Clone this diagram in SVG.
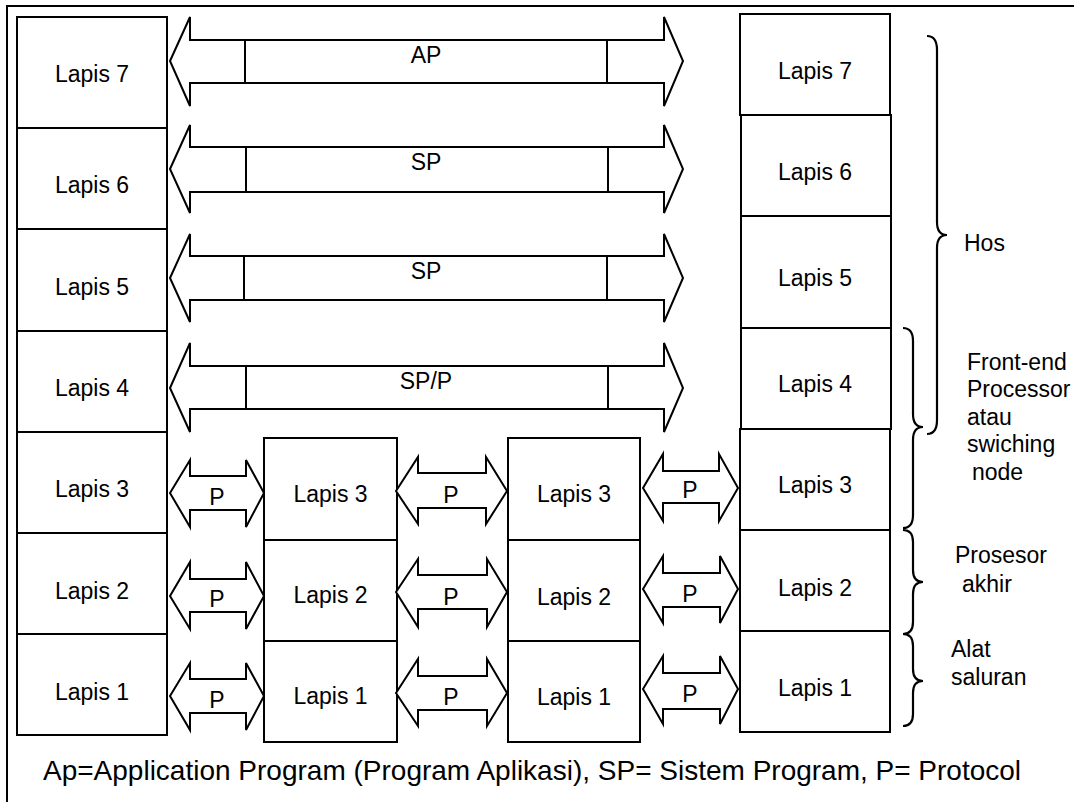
<svg xmlns="http://www.w3.org/2000/svg" width="1074" height="802" viewBox="0 0 1074 802">
<style>
.box{fill:#fff;stroke:#000;stroke-width:2}
.arr{fill:#fff;stroke:#000;stroke-width:2;stroke-linejoin:miter}
.ln{stroke:#000;stroke-width:2;fill:none}
.br{fill:none;stroke:#000;stroke-width:2.2}
text{font-family:"Liberation Sans",Arial,sans-serif;font-size:23px;fill:#000}
.c{text-anchor:middle}
.foot{font-size:28px}
</style>
<rect x="0" y="0" width="1074" height="802" fill="#fff"/>
<rect x="7" y="6" width="1090" height="820" fill="none" stroke="#000" stroke-width="2"/>

<g id="host-a">
<g id="a7"><rect class="box" x="17" y="17" width="150" height="111"/><text class="c" x="92" y="82">Lapis 7</text></g>
<g id="a6"><rect class="box" x="17" y="128" width="150" height="101"/><text class="c" x="92" y="193">Lapis 6</text></g>
<g id="a5"><rect class="box" x="17" y="229" width="150" height="102"/><text class="c" x="92" y="295">Lapis 5</text></g>
<g id="a4"><rect class="box" x="17" y="331" width="150" height="101"/><text class="c" x="92" y="396">Lapis 4</text></g>
<g id="a3"><rect class="box" x="17" y="432" width="150" height="101"/><text class="c" x="92" y="497">Lapis 3</text></g>
<g id="a2"><rect class="box" x="17" y="533" width="150" height="101"/><text class="c" x="92" y="599">Lapis 2</text></g>
<g id="a1"><rect class="box" x="17" y="634" width="150" height="101"/><text class="c" x="92" y="700">Lapis 1</text></g>
</g>

<g id="node-b">
<g id="b3"><rect class="box" x="264" y="438" width="133" height="102"/><text class="c" x="330.5" y="502">Lapis 3</text></g>
<g id="b2"><rect class="box" x="264" y="540" width="133" height="101"/><text class="c" x="330.5" y="603">Lapis 2</text></g>
<g id="b1"><rect class="box" x="264" y="641" width="133" height="101"/><text class="c" x="330.5" y="704">Lapis 1</text></g>
</g>

<g id="node-c">
<g id="c3"><rect class="box" x="508" y="438" width="132" height="102"/><text class="c" x="574" y="502">Lapis 3</text></g>
<g id="c2"><rect class="box" x="508" y="540" width="132" height="101"/><text class="c" x="574" y="605">Lapis 2</text></g>
<g id="c1"><rect class="box" x="508" y="641" width="132" height="101"/><text class="c" x="574" y="705">Lapis 1</text></g>
</g>

<g id="host-d">
<g id="d7"><rect class="box" x="740" y="14" width="150" height="101"/><text class="c" x="815" y="79">Lapis 7</text></g>
<g id="d6"><rect class="box" x="741" y="115" width="150" height="101"/><text class="c" x="815" y="180">Lapis 6</text></g>
<g id="d5"><rect class="box" x="741" y="216" width="150" height="112"/><text class="c" x="815" y="286">Lapis 5</text></g>
<g id="d4"><rect class="box" x="741" y="328" width="150" height="101"/><text class="c" x="815" y="392">Lapis 4</text></g>
<g id="d3"><rect class="box" x="740" y="429" width="150" height="101"/><text class="c" x="815" y="493">Lapis 3</text></g>
<g id="d2"><rect class="box" x="740" y="530" width="150" height="101"/><text class="c" x="815" y="596">Lapis 2</text></g>
<g id="d1"><rect class="box" x="740" y="631" width="150" height="101"/><text class="c" x="815" y="696">Lapis 1</text></g>
</g>

<g id="connectors">
<g id="ap">
<polygon class="arr" points="170,61 190,17 190,40 664,40 664,17 683,61 664,106 664,83 190,83 190,106"/>
<line class="ln" x1="245" y1="40" x2="245" y2="83"/><line class="ln" x1="607" y1="40" x2="607" y2="83"/>
<text class="c" x="426" y="63">AP</text>
</g>
<g id="sp6">
<polygon class="arr" points="170,169 190,125 190,147 664,147 664,125 683,169 664,213 664,192 190,192 190,213"/>
<line class="ln" x1="246" y1="147" x2="246" y2="192"/><line class="ln" x1="608" y1="147" x2="608" y2="192"/>
<text class="c" x="426" y="170">SP</text>
</g>
<g id="sp5">
<polygon class="arr" points="170,278 190,234 190,256 664,256 664,234 683,278 664,322 664,300 190,300 190,322"/>
<line class="ln" x1="244" y1="256" x2="244" y2="300"/><line class="ln" x1="607" y1="256" x2="607" y2="300"/>
<text class="c" x="426" y="279">SP</text>
</g>
<g id="spp4">
<polygon class="arr" points="170,388 190,343 190,366 664,366 664,343 683,388 664,432 664,409 190,409 190,432"/>
<line class="ln" x1="246" y1="366" x2="246" y2="409"/><line class="ln" x1="608" y1="366" x2="608" y2="409"/>
<text class="c" x="426" y="389">SP/P</text>
</g>

<g id="p-ab3"><polygon class="arr" points="170,493 190,460 190,476 246,476 246,460 264,493 246,527 246,510 190,510 190,527"/><text class="c" x="217" y="505">P</text></g>
<g id="p-ab2"><polygon class="arr" points="170,596 190,562 190,579 246,579 246,562 264,596 246,629 246,612 190,612 190,629"/><text class="c" x="217" y="607">P</text></g>
<g id="p-ab1"><polygon class="arr" points="170,696 190,663 190,679 246,679 246,663 264,696 246,730 246,713 190,713 190,730"/><text class="c" x="217" y="708">P</text></g>

<g id="p-bc3"><polygon class="arr" points="396,491 418,457 418,473 486,473 486,457 507,491 486,524 486,508 418,508 418,524"/><text class="c" x="451" y="503">P</text></g>
<g id="p-bc2"><polygon class="arr" points="396,592 418,559 418,575 487,575 487,559 507,592 487,627 487,609 418,609 418,627"/><text class="c" x="451" y="605">P</text></g>
<g id="p-bc1"><polygon class="arr" points="396,693 418,659 418,676 487,676 487,659 507,693 487,726 487,710 418,710 418,726"/><text class="c" x="451" y="705">P</text></g>

<g id="p-cd3"><polygon class="arr" points="643,488 663,454 663,471 719,471 719,454 738,488 719,521 719,503 663,503 663,521"/><text class="c" x="690" y="498">P</text></g>
<g id="p-cd2"><polygon class="arr" points="643,589 663,556 663,573 720,573 720,556 738,589 720,623 720,607 663,607 663,623"/><text class="c" x="690" y="602">P</text></g>
<g id="p-cd1"><polygon class="arr" points="643,689 663,656 663,673 720,673 720,656 738,689 720,724 720,709 663,709 663,724"/><text class="c" x="690" y="702">P</text></g>
</g>

<g id="braces">
<g id="hos">
<path class="br" d="M927,36 Q937,36 937,50 L937,222 Q937,235 947,235 Q937,235 937,248 L937,420 Q937,434 927,434"/>
<text x="964" y="251">Hos</text>
</g>
<g id="frontend">
<path class="br" d="M903,328 Q913,328 913,341 L913,414 Q913,427 923,427 Q913,427 913,440 L913,515 Q913,528 903,528"/>
<text x="967" y="370">Front-end</text>
<text x="967" y="397">Processor</text>
<text x="967" y="425">atau</text>
<text x="967" y="452">swiching</text>
<text x="972" y="480">node</text>
</g>
<g id="prosesor">
<path class="br" d="M903,530 Q913,530 913,542 L913,570 Q913,582 923,582 Q913,582 913,594 L913,622 Q913,634 903,634"/>
<text x="955" y="563">Prosesor</text>
<text x="962" y="592">akhir</text>
</g>
<g id="alat">
<path class="br" d="M903,634 Q913,634 913,646 L913,669 Q913,681 923,681 Q913,681 913,693 L913,714 Q913,726 903,726"/>
<text x="951" y="657">Alat</text>
<text x="951" y="685">saluran</text>
</g>
</g>

<text class="foot" x="43" y="780">Ap=Application Program (Program Aplikasi), SP= Sistem Program, P= Protocol</text>
</svg>
